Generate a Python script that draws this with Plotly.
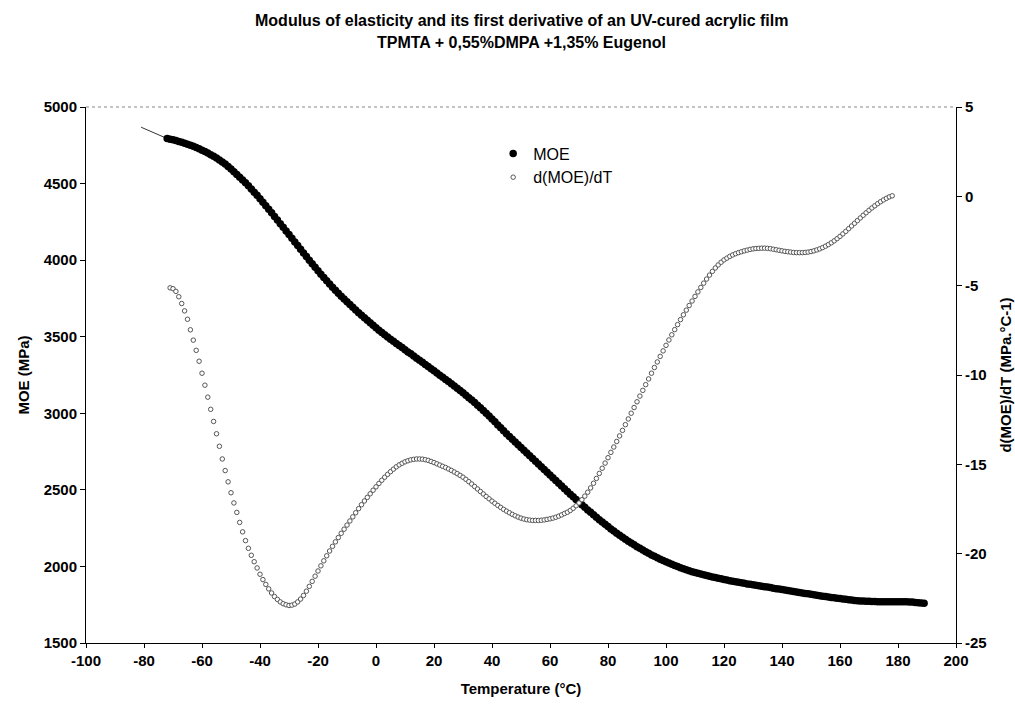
import plotly.graph_objects as go

# Temperature grids (°C)
temp_moe = list(range(-72, 190))
temp_deriv = list(range(-71, 179))

# thin lead-in segment at the start of the MOE record
temp_lead = [-81, -78, -75, -72]
moe_lead = [4868, 4843, 4818, 4794]

# Modulus of elasticity (MPa), one value per °C from -72 to 189
moe = [
    4794, 4790, 4786, 4781, 4775, 4770, 4764, 4757, 4750, 4743,
    4735, 4727, 4718, 4709, 4699, 4688, 4678, 4667, 4654, 4641,
    4627, 4611, 4595, 4578, 4560, 4542, 4524, 4505, 4485, 4465,
    4444, 4423, 4401, 4378, 4355, 4332, 4309, 4285, 4262, 4238,
    4215, 4191, 4167, 4143, 4119, 4095, 4071, 4047, 4023, 3999,
    3976, 3953, 3930, 3908, 3886, 3865, 3844, 3823, 3803, 3784,
    3765, 3746, 3728, 3710, 3692, 3675, 3657, 3640, 3624, 3607,
    3591, 3575, 3559, 3543, 3528, 3513, 3498, 3484, 3470, 3456,
    3442, 3429, 3415, 3401, 3388, 3374, 3360, 3346, 3333, 3319,
    3305, 3291, 3277, 3263, 3249, 3235, 3221, 3207, 3193, 3178,
    3164, 3149, 3134, 3118, 3102, 3086, 3070, 3053, 3036, 3018,
    3000, 2982, 2963, 2944, 2924, 2905, 2886, 2867, 2848, 2830,
    2812, 2794, 2776, 2758, 2740, 2722, 2704, 2686, 2669, 2651,
    2633, 2615, 2597, 2579, 2561, 2543, 2525, 2507, 2490, 2472,
    2455, 2437, 2420, 2403, 2386, 2369, 2353, 2337, 2321, 2305,
    2290, 2275, 2260, 2245, 2231, 2217, 2204, 2190, 2178, 2165,
    2153, 2141, 2129, 2118, 2107, 2096, 2086, 2075, 2066, 2056,
    2047, 2038, 2030, 2022, 2014, 2006, 1999, 1992, 1985, 1979,
    1972, 1966, 1961, 1955, 1950, 1945, 1940, 1936, 1931, 1927,
    1923, 1919, 1915, 1911, 1907, 1903, 1900, 1896, 1893, 1890,
    1886, 1883, 1880, 1877, 1874, 1871, 1868, 1865, 1862, 1858,
    1855, 1852, 1849, 1846, 1843, 1839, 1836, 1833, 1830, 1827,
    1824, 1821, 1818, 1815, 1812, 1809, 1806, 1803, 1800, 1797,
    1795, 1792, 1790, 1787, 1785, 1782, 1780, 1778, 1776, 1775,
    1774, 1773, 1772, 1771, 1771, 1770, 1770, 1770, 1770, 1770,
    1770, 1769, 1769, 1769, 1769, 1769, 1768, 1767, 1765, 1763,
    1761, 1759,
]

# First derivative d(MOE)/dT (MPa/°C), one value per °C from -71 to 178
deriv = [
    -5.12, -5.17, -5.32, -5.62, -6.00, -6.41, -6.88, -7.47, -8.05, -8.62,
    -9.23, -9.90, -10.57, -11.24, -11.92, -12.60, -13.29, -13.99, -14.70, -15.35,
    -15.98, -16.59, -17.16, -17.69, -18.25, -18.78, -19.27, -19.70, -20.09, -20.45,
    -20.80, -21.15, -21.45, -21.72, -21.97, -22.20, -22.40, -22.56, -22.70, -22.80,
    -22.86, -22.90, -22.88, -22.82, -22.70, -22.54, -22.34, -22.10, -21.83, -21.55,
    -21.26, -20.97, -20.68, -20.40, -20.12, -19.85, -19.59, -19.34, -19.10, -18.86,
    -18.63, -18.40, -18.17, -17.94, -17.71, -17.48, -17.26, -17.05, -16.85, -16.65,
    -16.45, -16.26, -16.07, -15.89, -15.72, -15.56, -15.41, -15.27, -15.14, -15.03,
    -14.94, -14.86, -14.80, -14.75, -14.72, -14.70, -14.70, -14.71, -14.74, -14.78,
    -14.84, -14.90, -14.97, -15.04, -15.11, -15.18, -15.26, -15.34, -15.43, -15.52,
    -15.62, -15.72, -15.84, -15.97, -16.10, -16.24, -16.38, -16.52, -16.66, -16.80,
    -16.93, -17.06, -17.18, -17.30, -17.41, -17.52, -17.62, -17.71, -17.80, -17.88,
    -17.95, -18.01, -18.06, -18.10, -18.12, -18.14, -18.14, -18.14, -18.13, -18.11,
    -18.08, -18.05, -18.01, -17.96, -17.90, -17.83, -17.75, -17.68, -17.58, -17.46,
    -17.32, -17.16, -16.98, -16.78, -16.56, -16.32, -16.06, -15.79, -15.51, -15.22,
    -14.93, -14.63, -14.33, -14.03, -13.72, -13.41, -13.10, -12.78, -12.46, -12.14,
    -11.82, -11.50, -11.18, -10.86, -10.54, -10.22, -9.90, -9.58, -9.27, -8.96,
    -8.65, -8.34, -8.04, -7.75, -7.46, -7.18, -6.90, -6.63, -6.37, -6.11,
    -5.86, -5.60, -5.35, -5.10, -4.86, -4.63, -4.41, -4.20, -4.01, -3.84,
    -3.69, -3.56, -3.46, -3.36, -3.28, -3.21, -3.15, -3.10, -3.05, -3.01,
    -2.97, -2.94, -2.92, -2.91, -2.90, -2.90, -2.91, -2.93, -2.96, -2.99,
    -3.02, -3.05, -3.08, -3.10, -3.12, -3.14, -3.15, -3.15, -3.15, -3.14,
    -3.12, -3.09, -3.05, -3.00, -2.94, -2.87, -2.79, -2.70, -2.60, -2.49,
    -2.37, -2.24, -2.10, -1.96, -1.81, -1.66, -1.51, -1.36, -1.21, -1.06,
    -0.92, -0.78, -0.65, -0.53, -0.41, -0.30, -0.20, -0.11, -0.03, 0.03,
]

# Axis ticks
x_ticks = [-100, -80, -60, -40, -20, 0, 20, 40, 60, 80, 100, 120, 140, 160, 180, 200]
x_tick_labels = ["-100", "-80", "-60", "-40", "-20", "0", "20", "40", "60", "80",
                 "100", "120", "140", "160", "180", "200"]
y_ticks = [1500, 2000, 2500, 3000, 3500, 4000, 4500, 5000]
y_tick_labels = ["1500", "2000", "2500", "3000", "3500", "4000", "4500", "5000"]
y2_ticks = [-25, -20, -15, -10, -5, 0, 5]
y2_tick_labels = ["-25", "-20", "-15", "-10", "-5", "0", "5"]

FONT = "Arial, Liberation Sans, sans-serif"
bold_tick = dict(family=FONT, size=15, color="black", weight="bold")
bold_title = dict(family=FONT, size=15, color="black", weight="bold")

fig = go.Figure()

fig.add_trace(go.Scatter(
    x=temp_lead, y=moe_lead, mode="lines",
    line=dict(color="#333333", width=1),
    showlegend=False, hoverinfo="skip",
))
fig.add_trace(go.Scatter(
    x=temp_moe, y=moe, mode="markers", name="MOE",
    marker=dict(symbol="circle", size=7.5, color="black", line=dict(width=0)),
))
fig.add_trace(go.Scatter(
    x=temp_deriv, y=deriv, mode="markers", name="d(MOE)/dT", yaxis="y2",
    marker=dict(symbol="circle", size=4.5, color="white",
                line=dict(color="#555555", width=1)),
))

# dotted frame along the top of the plot area
fig.add_shape(type="line", xref="paper", yref="paper", x0=0, x1=1, y0=1, y1=1,
              line=dict(color="#888888", width=1, dash="dot"))

# two-line bold title
fig.add_annotation(
    text="Modulus of elasticity and its first derivative of an UV-cured acrylic film",
    xref="paper", yref="paper", x=0.501, y=1.0, yshift=87,
    xanchor="center", yanchor="middle", showarrow=False,
    font=dict(family=FONT, size=16, color="black", weight="bold"),
)
fig.add_annotation(
    text="TPMTA + 0,55%DMPA +1,35% Eugenol",
    xref="paper", yref="paper", x=0.501, y=1.0, yshift=65,
    xanchor="center", yanchor="middle", showarrow=False,
    font=dict(family=FONT, size=16, color="black", weight="bold"),
)

fig.update_layout(
    width=1015, height=706,
    margin=dict(l=86, r=59, t=107, b=63, autoexpand=False),
    paper_bgcolor="white", plot_bgcolor="white",
    font=dict(family=FONT, color="black"),
    xaxis=dict(
        range=[-100, 200], tickvals=x_ticks, ticktext=x_tick_labels,
        showline=True, linecolor="black", linewidth=1, mirror=False,
        ticks="outside", ticklen=4, tickcolor="black", tickfont=bold_tick,
        showgrid=False, zeroline=False, automargin=False,
        title=dict(text="Temperature (°C)", standoff=15, font=bold_title),
    ),
    yaxis=dict(
        range=[1500, 5000], tickvals=y_ticks, ticktext=y_tick_labels,
        showline=True, linecolor="black", linewidth=1,
        ticks="outside", ticklen=5, tickcolor="black", tickfont=bold_tick,
        showgrid=False, zeroline=False, automargin=False,
        title=dict(text="MOE (MPa)", standoff=10, font=bold_title),
    ),
    yaxis2=dict(
        range=[-25, 5], tickvals=y2_ticks, ticktext=y2_tick_labels,
        overlaying="y", side="right", anchor="x",
        showline=True, linecolor="black", linewidth=1,
        ticks="outside", ticklen=5, tickcolor="black", tickfont=bold_tick,
        showgrid=False, zeroline=False, automargin=False,
        title=dict(text="d(MOE)/dT (MPa.°C-1)", standoff=14, font=bold_title),
    ),
    legend=dict(
        x=0.468, y=0.945, xanchor="left", yanchor="top",
        bgcolor="rgba(0,0,0,0)", borderwidth=0,
        font=dict(family=FONT, size=16, color="black"),
        itemwidth=30, tracegroupgap=0,
    ),
    showlegend=True,
)

fig.write_html("out.html")
